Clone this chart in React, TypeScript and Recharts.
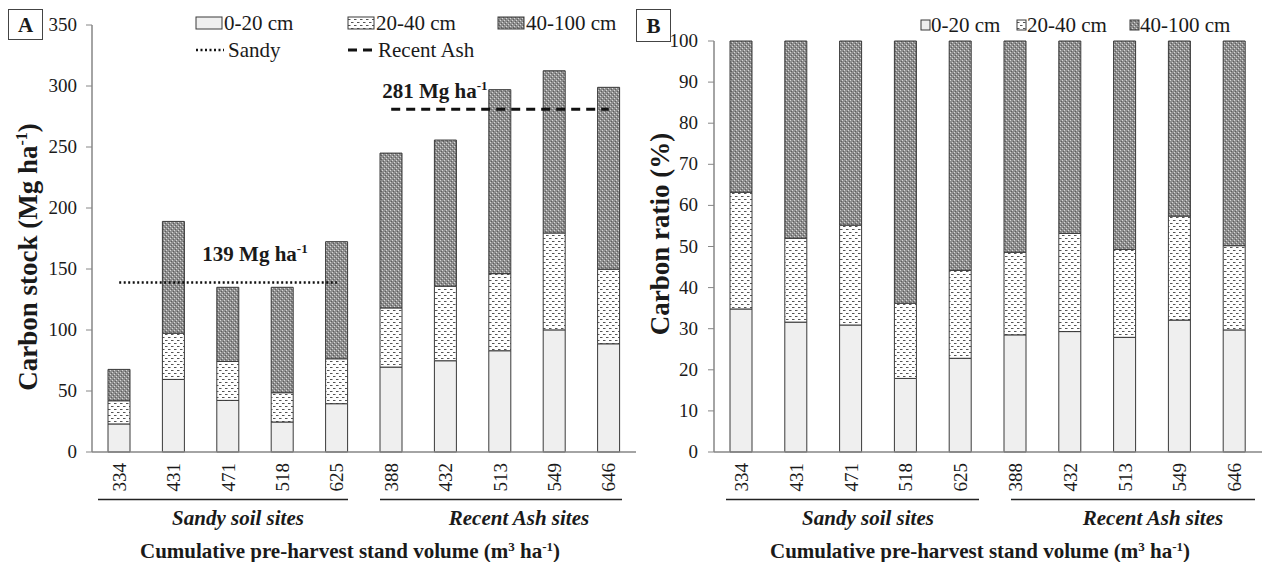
import React from 'react';
import { ComposedChart, Bar, Line, XAxis, YAxis } from 'recharts';

const sites = ['334', '431', '471', '518', '625', '388', '432', '513', '549', '646'];
const layers = ['0-20 cm', '20-40 cm', '40-100 cm'];

// carbon stock per soil layer (Mg ha-1)
const stockTop = [23.0, 59.5, 42.3, 24.6, 39.6, 69.6, 74.8, 83.0, 100.1, 88.7];
const stockMid = [19.0, 37.9, 31.9, 24.0, 36.8, 48.5, 61.1, 63.2, 79.4, 61.1];
const stockDeep = [25.7, 91.6, 60.8, 86.4, 96.0, 126.9, 119.8, 150.8, 133.0, 149.1];

// share of each layer in the profile (%)
const ratioTop = [34.8, 31.6, 30.9, 17.9, 22.8, 28.5, 29.3, 27.9, 32.1, 29.7];
const ratioMid = [28.4, 20.4, 24.3, 18.3, 21.4, 20.1, 23.9, 21.4, 25.3, 20.5];
const ratioDeep = [36.8, 48.0, 44.8, 63.8, 55.8, 51.4, 46.8, 50.7, 42.6, 49.8];

// mean stock per soil group, first five sites are sandy
const sandyMean = 139;
const ashMean = 281;
const sandyCount = 5;

const stockTicks = [0, 50, 100, 150, 200, 250, 300, 350];
const ratioTicks = [0, 10, 20, 30, 40, 50, 60, 70, 80, 90, 100];

const stockData = sites.map((site, i) => ({
  site,
  top: stockTop[i],
  mid: stockMid[i],
  deep: stockDeep[i],
  sandy: i < sandyCount ? sandyMean : null,
  ash: i >= sandyCount ? ashMean : null,
}));

const ratioData = sites.map((site, i) => ({
  site,
  top: ratioTop[i],
  mid: ratioMid[i],
  deep: ratioDeep[i],
}));

const FONT = '"Liberation Serif", "Times New Roman", serif';
const INK = '#1a1a1a';
const AXIS = '#868686';
const fills = ['#efefef', 'url(#pat-mid)', 'url(#pat-deep)'];

const Txt = ({ x, y, size = 18, anchor = 'start', weight = 'normal', italic = false, rotate = false, children }: any) => (
  <g transform={`translate(${x},${y})${rotate ? ' rotate(-90)' : ''}`}>
    <text
      x={0}
      y={0}
      textAnchor={anchor}
      fontFamily={FONT}
      fontSize={size}
      fontWeight={weight}
      fontStyle={italic ? 'italic' : 'normal'}
      fill={INK}
    >
      {children}
    </text>
  </g>
);

const YTick = ({ x, y, payload }: any) => (
  <Txt x={x} y={y + 6} size={19} anchor="end">{payload.value}</Txt>
);

const SiteTick = ({ x, y, payload }: any) => (
  <g transform={`translate(${x},${y + 9}) rotate(-90)`}>
    <text x={0} y={0} dy="0.35em" textAnchor="end" fontFamily={FONT} fontSize={19} fill={INK}>
      {payload.value}
    </text>
  </g>
);

const MeanLabel = ({ x, y, index, value, at, dx, anchor, dyUp }: any) => {
  if (index !== at || value == null) return <g />;
  return (
    <Txt x={x + dx} y={y - dyUp} size={21} anchor={anchor} weight="bold">
      {value} Mg ha
      <tspan dy={-8} fontSize={13}>-1</tspan>
    </Txt>
  );
};

const Patterns = () => (
  <svg width={0} height={0} style={{ position: 'absolute' }}>
    <defs>
      <pattern id="pat-mid" width={6} height={6} patternUnits="userSpaceOnUse">
        <rect width={6} height={6} fill="#ffffff" />
        <rect x={0} y={1} width={2.5} height={1} fill="#555" />
        <rect x={3} y={4} width={2.5} height={1} fill="#555" />
      </pattern>
      <pattern id="pat-deep" width={4} height={4} patternUnits="userSpaceOnUse">
        <rect width={4} height={4} fill="#8e8e8e" />
        <rect x={0} y={0} width={1} height={1} fill="#d6d6d6" />
        <rect x={2} y={2} width={1} height={1} fill="#d6d6d6" />
        <rect x={1} y={3} width={1} height={1} fill="#5e5e5e" />
        <rect x={3} y={1} width={1} height={1} fill="#5e5e5e" />
      </pattern>
    </defs>
  </svg>
);

const layerBars = (keyPrefix: string) =>
  ['top', 'mid', 'deep'].map((k, i) => (
    <Bar
      key={keyPrefix + k}
      dataKey={k}
      name={layers[i]}
      stackId="s"
      barSize={22}
      fill={fills[i]}
      stroke="#3a3a3a"
      strokeWidth={1}
      isAnimationActive={false}
    />
  ));

const PanelBox = ({ x, y, w, h, letter }: any) => (
  <g>
    <rect x={x} y={y} width={w} height={h} fill="#fff" stroke="#444" strokeWidth={1} />
    <Txt x={x + w / 2} y={y + h / 2 + 7} size={21} anchor="middle" weight="bold">{letter}</Txt>
  </g>
);

const XTitle = ({ x }: any) => (
  <Txt x={x} y={558} size={21} anchor="middle" weight="bold">
    Cumulative pre-harvest stand volume (m<tspan dy={-7} fontSize={13}>3</tspan>
    <tspan dy={7}> ha</tspan>
    <tspan dy={-7} fontSize={13}>-1</tspan>
    <tspan dy={7}>)</tspan>
  </Txt>
);

const Groups = ({ sandy, ash }: any) => (
  <g>
    <line x1={sandy[0]} x2={sandy[1]} y1={499.5} y2={499.5} stroke="#222" strokeWidth={1.6} />
    <line x1={ash[0]} x2={ash[1]} y1={499.5} y2={499.5} stroke="#222" strokeWidth={1.6} />
    <Txt x={sandy[2]} y={525} size={21} anchor="middle" weight="bold" italic>Sandy soil sites</Txt>
    <Txt x={ash[2]} y={525} size={21} anchor="middle" weight="bold" italic>Recent Ash sites</Txt>
  </g>
);

const Overlay = () => (
  <svg width={1264} height={562} style={{ position: 'absolute', left: 0, top: 0, pointerEvents: 'none' }}>
    <PanelBox x={8.5} y={9.5} w={34} h={30} letter="A" />
    <PanelBox x={636.5} y={9.5} w={34} h={32} letter="B" />

    <Txt x={37} y={257} size={27} anchor="middle" weight="bold" rotate>
      Carbon stock (Mg ha<tspan dy={-10} fontSize={16}>-1</tspan>
      <tspan dy={10}>)</tspan>
    </Txt>
    <Txt x={669} y={234} size={27} anchor="middle" weight="bold" rotate>Carbon ratio (%)</Txt>

    {/* panel A legend */}
    {[196, 348, 498].map((lx, i) => (
      <g key={'la' + i}>
        <rect x={lx} y={17} width={26} height={12} fill={fills[i]} stroke="#3a3a3a" />
        <Txt x={lx + 28} y={30} size={21}>{layers[i]}</Txt>
      </g>
    ))}
    <line x1={196} x2={224} y1={50} y2={50} stroke="#111" strokeWidth={2.5} strokeDasharray="2 2.5" />
    <Txt x={228} y={57} size={21}>Sandy</Txt>
    <line x1={348} x2={376} y1={50} y2={50} stroke="#111" strokeWidth={3} strokeDasharray="9 6" />
    <Txt x={378} y={57} size={21}>Recent Ash</Txt>

    {/* panel B legend */}
    {[921, 1017, 1130].map((lx, i) => (
      <g key={'lb' + i}>
        <rect x={lx} y={20} width={9} height={10} fill={fills[i]} stroke="#3a3a3a" />
        <Txt x={lx + 10} y={32} size={21}>{layers[i]}</Txt>
      </g>
    ))}

    <Groups sandy={[98, 348, 238]} ash={[380, 622, 519]} />
    <Groups sandy={[726, 979, 868]} ash={[1011, 1255, 1153]} />
    <XTitle x={350} />
    <XTitle x={980} />
  </svg>
);

export default function App() {
  return (
    <div style={{ position: 'absolute', left: 0, top: 0, width: 1264, height: 562, background: '#fff' }}>
      <Patterns />
      <div style={{ position: 'absolute', left: 0, top: 0 }}>
        <ComposedChart width={640} height={562} data={stockData} margin={{ top: 25, right: 4, bottom: 0, left: 0 }} barCategoryGap={0}>
          <XAxis dataKey="site" height={110} interval={0} tickLine={false} tickSize={0} axisLine={{ stroke: AXIS, strokeWidth: 1.5 }} tick={<SiteTick />} />
          <YAxis width={92} domain={[0, 350]} ticks={stockTicks} tickSize={6} tickMargin={9} axisLine={{ stroke: AXIS, strokeWidth: 1.5 }} tickLine={{ stroke: AXIS }} tick={<YTick />} />
          {layerBars('a')}
          <Line
            dataKey="sandy"
            stroke="#111"
            strokeWidth={2.5}
            strokeDasharray="2 2.5"
            dot={false}
            isAnimationActive={false}
            label={(p: any) => <MeanLabel {...p} at={2} dx={27} anchor="middle" dyUp={21} />}
          />
          <Line
            dataKey="ash"
            stroke="#111"
            strokeWidth={3}
            strokeDasharray="9 6"
            dot={false}
            isAnimationActive={false}
            label={(p: any) => <MeanLabel {...p} at={5} dx={-9} anchor="start" dyUp={11} />}
          />
        </ComposedChart>
      </div>
      <div style={{ position: 'absolute', left: 630, top: 0 }}>
        <ComposedChart width={634} height={562} data={ratioData} margin={{ top: 41, right: 2, bottom: 0, left: 0 }} barCategoryGap={0}>
          <XAxis dataKey="site" height={110} interval={0} tickLine={false} tickSize={0} axisLine={{ stroke: AXIS, strokeWidth: 1.5 }} tick={<SiteTick />} />
          <YAxis width={84} domain={[0, 100]} ticks={ratioTicks} tickSize={6} tickMargin={10} axisLine={{ stroke: AXIS, strokeWidth: 1.5 }} tickLine={{ stroke: AXIS }} tick={<YTick />} />
          {layerBars('b')}
        </ComposedChart>
      </div>
      <Overlay />
    </div>
  );
}
